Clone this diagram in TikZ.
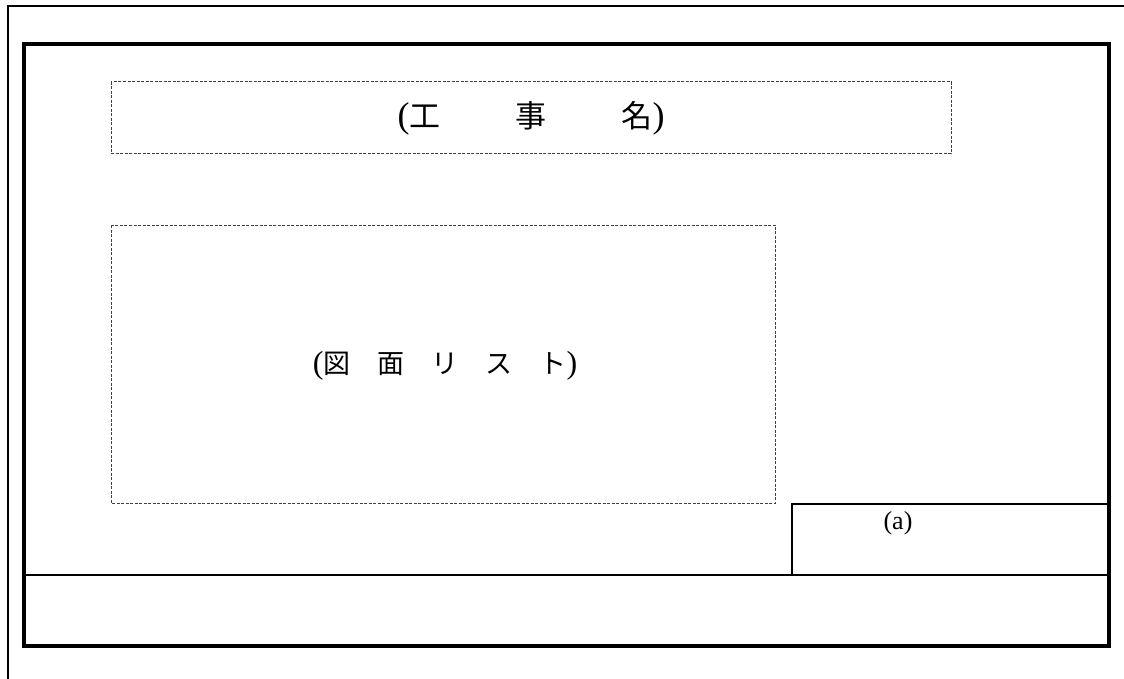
\documentclass[tikz,border=0pt]{standalone}
\usepackage{fontspec}
\setmainfont{Liberation Serif}
\newfontfamily\cjk{Noto Sans CJK JP}
\newcommand{\bigparen}[2]{{\fontsize{#1}{#1}\selectfont #2}}
\begin{document}
\begin{tikzpicture}[x=1pt,y=-1pt,
  thickframe/.style={line width=4pt},
  thinline/.style={line width=2.3pt},
  dashbox/.style={draw=black!75,line width=1pt,dash pattern=on 3pt off 1.5pt},
  lbl/.style={inner sep=0pt,anchor=center}]
\useasboundingbox (0,0) rectangle (1124,679);
% outer thin frame (cut by the page edges)
\draw[thinline] (8,690) -- (8,6) -- (1135,6);
% inner thick frame
\draw[thickframe] (24,44) rectangle (1109,646);
% bottom strip line
\draw[thinline] (24,575) -- (1109,575);
% box (a)
\draw[thinline] (792,575) -- (792,504) -- (1109,504);
% dashed boxes
\draw[dashbox] (111,82) rectangle (951,154);
\draw[dashbox] (111,225) rectangle (775,503);
% texts
\node[lbl,font=\fontsize{31}{34}\selectfont] (koji) at (531,118)
  {\bigparen{36}{(}{\cjk 工}\hspace{75pt}{\cjk 事}\hspace{75pt}{\cjk 名}\bigparen{36}{)}};
\node[lbl,font=\fontsize{27}{30}\selectfont] (zumen) at (445,366)
  {\bigparen{32}{(}{\cjk 図}\hspace{27pt}{\cjk 面}\hspace{27pt}{\cjk リ}\hspace{27pt}{\cjk ス}\hspace{27pt}{\cjk ト}\bigparen{32}{)}};
\node[lbl,font=\fontsize{26}{30}\selectfont] (a) at (898,523) {(a)};
\end{tikzpicture}
\end{document}
